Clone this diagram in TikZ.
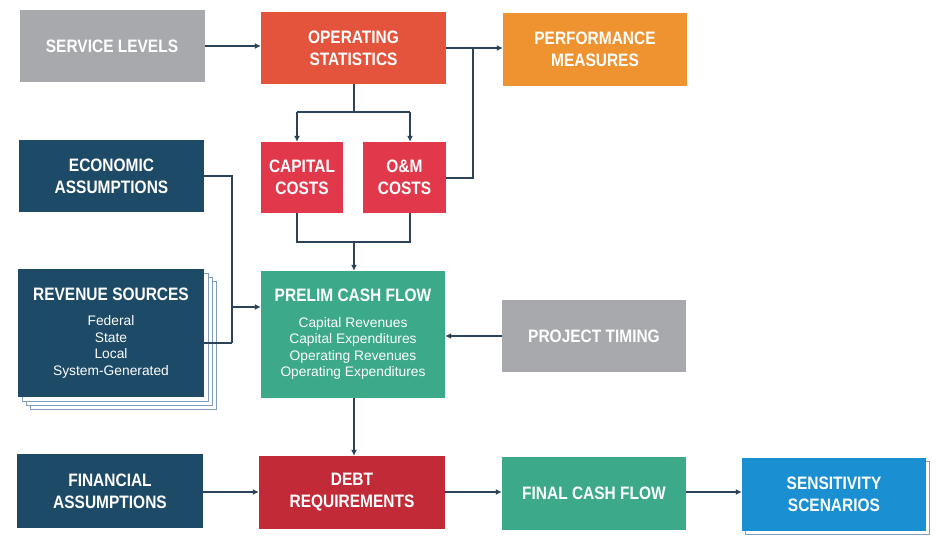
\documentclass[tikz,border=0pt]{standalone}
\usepackage{fontspec}
\setmainfont{Liberation Sans}
\newfontfamily\hdr[FakeStretch=0.86]{Liberation Sans}
\usetikzlibrary{arrows.meta}
\definecolor{cgray}{HTML}{A7A9AC}
\definecolor{cops}{HTML}{E4533B}
\definecolor{cperf}{HTML}{EF9331}
\definecolor{cnavy}{HTML}{1D4A66}
\definecolor{ccost}{HTML}{E1394B}
\definecolor{cgreen}{HTML}{3BA98A}
\definecolor{cdebt}{HTML}{C12A36}
\definecolor{cblue}{HTML}{1A8FD1}
\definecolor{cline}{HTML}{2B4258}
\definecolor{cstack}{HTML}{7F9CC0}
\tikzset{
  blk/.style={rectangle, inner sep=2pt, text=white, align=center,
    font=\hdr\bfseries\fontsize{18}{22}\selectfont},
  lst/.style={blk, font=\hdr\bfseries\fontsize{18}{16.5}\selectfont},
  conn/.style={draw=cline, line width=1.5pt},
  arr/.style={conn, -{Latex[length=6pt,width=6pt]}},
  stk/.style={draw=cstack, fill=white, line width=0.9pt}
}
\newcommand{\subl}[1]{{\normalfont\fontsize{13.8}{16.5}\selectfont #1}}
\begin{document}
\begin{tikzpicture}[x=1pt,y=-1pt]
\useasboundingbox (0,0) rectangle (937,537);
% stacked pages behind revenue sources
\draw[stk] (30,281) rectangle (216,409);
\draw[stk] (26,277) rectangle (212,405);
\draw[stk] (22,273) rectangle (208,401);
% shadow behind sensitivity
\draw[stk] (745,461) rectangle (929,534);

\node[blk, fill=cgray, minimum width=185pt, minimum height=72pt] (sl) at (112,46.5) {SERVICE LEVELS};
\node[blk, fill=cops, minimum width=185pt, minimum height=72pt] (os) at (353.5,48) {OPERATING\\STATISTICS};
\node[blk, fill=cperf, minimum width=184pt, minimum height=73pt] (pm) at (595,49.5) {PERFORMANCE\\MEASURES};
\node[blk, fill=cnavy, minimum width=185pt, minimum height=72pt] (ea) at (111.5,176) {ECONOMIC\\ASSUMPTIONS};
\node[blk, fill=ccost, minimum width=82pt, minimum height=71pt] (cc) at (302,177.5) {CAPITAL\\COSTS};
\node[blk, fill=ccost, minimum width=83pt, minimum height=71pt] (om) at (404.5,177.5) {O\&M\\COSTS};
\node[lst, fill=cnavy, minimum width=186pt, minimum height=128pt] (rs) at (111,333)
  {REVENUE SOURCES\\[9pt]\subl{Federal}\\\subl{State}\\\subl{Local}\\\subl{System-Generated}};
\node[lst, fill=cgreen, minimum width=184pt, minimum height=127pt] (pcf) at (353,334.5)
  {PRELIM CASH FLOW\\[9pt]\subl{Capital Revenues}\\\subl{Capital Expenditures}\\\subl{Operating Revenues}\\\subl{Operating Expenditures}};
\node[blk, fill=cgray, minimum width=184pt, minimum height=72pt] (pt) at (594,336) {PROJECT TIMING};
\node[blk, fill=cnavy, minimum width=186pt, minimum height=74pt] (fa) at (110,491) {FINANCIAL\\ASSUMPTIONS};
\node[blk, fill=cdebt, minimum width=186pt, minimum height=73pt] (dr) at (352,492.5) {DEBT\\REQUIREMENTS};
\node[blk, fill=cgreen, minimum width=184pt, minimum height=73pt] (fcf) at (594,493.5) {FINAL CASH FLOW};
\node[blk, fill=cblue, minimum width=184pt, minimum height=73pt] (ss) at (834,494.5) {SENSITIVITY\\SCENARIOS};

% junction coordinates
\coordinate (jp) at (473,48);
\coordinate (jos) at (354,112);
\coordinate (jcl) at (297,112);
\coordinate (jcr) at (410,112);
\coordinate (jbl) at (297,242);
\coordinate (jbr) at (410,242);
\coordinate (jbm) at (354,242);
\coordinate (je) at (232,176);
\coordinate (jr) at (232,343);
\coordinate (jm) at (232,307);

% connectors
\draw[arr] (sl.east |- 0,46) -- (os.west |- 0,46);
\draw[arr] (os.east |- jp) -- (pm.west |- jp);
\draw[conn] (om.east |- 0,178) -| (jp);
\draw[conn] (os.south -| jos) -- (jos);
\draw[conn] (jcl) -- (jcr);
\draw[arr] (jcl) -- (cc.north -| jcl);
\draw[arr] (jcr) -- (om.north -| jcr);
\draw[conn] (cc.south -| jbl) -- (jbl) -- (jbr) -- (om.south -| jbr);
\draw[arr] (jbm) -- (pcf.north -| jbm);
\draw[conn] (ea.east |- je) -- (je) -- (jr);
\draw[conn] (rs.east |- jr) -- (jr);
\draw[arr] (jm) -- (pcf.west |- jm);
\draw[arr] (pt.west |- 0,336) -- (pcf.east |- 0,336);
\draw[arr] (pcf.south -| jos) -- (dr.north -| jos);
\draw[arr] (fa.east |- 0,492) -- (dr.west |- 0,492);
\draw[arr] (dr.east |- 0,492) -- (fcf.west |- 0,492);
\draw[arr] (fcf.east |- 0,492) -- (ss.west |- 0,492);
\end{tikzpicture}
\end{document}
